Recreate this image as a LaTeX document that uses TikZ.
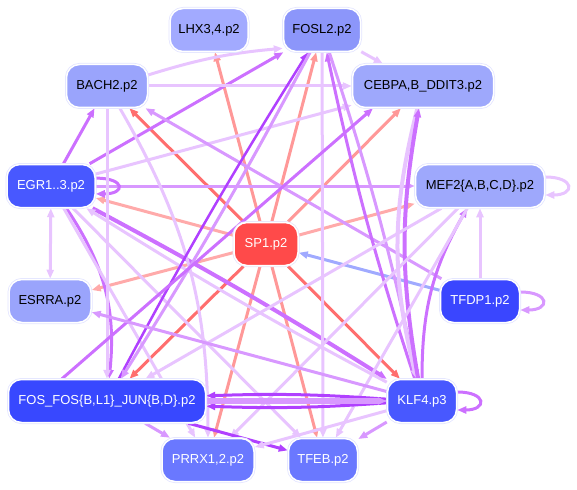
\documentclass[tikz,border=0pt]{standalone}
\usepackage{fontspec}
\setmainfont{Liberation Sans}
\usepackage{tikz}
\usetikzlibrary{arrows.meta}
\definecolor{lhxc}{HTML}{A2AAFF}
\definecolor{foslc}{HTML}{8C96FA}
\definecolor{bachc}{HTML}{9AA4FC}
\definecolor{cebc}{HTML}{9EA8FC}
\definecolor{egrc}{HTML}{4858FF}
\definecolor{spc}{HTML}{FF4A4A}
\definecolor{tfdc}{HTML}{3A46FF}
\definecolor{fosc}{HTML}{3848FF}
\definecolor{prrc}{HTML}{6A78FF}
\definecolor{rimc}{HTML}{E2E4FF}
\definecolor{redc}{HTML}{FF6E6E}
\definecolor{salc}{HTML}{FF9898}
\definecolor{lsalc}{HTML}{FFAAAA}
\definecolor{bluec}{HTML}{A0AAFF}
\definecolor{vioc}{HTML}{B040FF}
\definecolor{purc}{HTML}{CC70FF}
\definecolor{lpc}{HTML}{D898FF}
\definecolor{vlc}{HTML}{E8C4FF}
\pgfdeclarelayer{edges}
\pgfsetlayers{edges,main}
\tikzset{
  tf/.style={rounded corners=13pt,minimum height=43pt,inner sep=0pt,text=white,
    font=\fontsize{13}{15}\selectfont,preaction={draw=rimc,line width=3pt},draw=white,line width=1.5pt},
  lt/.style={text=black},
  ar/.style={->,line width=3pt}
}

\begin{document}
\begin{tikzpicture}[x=1pt,y=1pt,>={Triangle[length=9pt,width=7pt]}]
\useasboundingbox (0,0) rectangle (577,-489);
\node[tf,lt,fill=lhxc,minimum width=78pt] (lhx) at (209,-30) {LHX3,4.p2};
\node[tf,lt,fill=foslc,minimum width=77pt] (fosl) at (322,-30) {FOSL2.p2};
\node[tf,lt,fill=bachc,minimum width=81pt] (bach) at (107,-86) {BACH2.p2};
\node[tf,lt,fill=cebc,minimum width=141pt] (ceb) at (423,-86) {CEBPA,B\_DDIT3.p2};
\node[tf,fill=egrc,minimum width=88pt] (egr) at (51,-186) {EGR1..3.p2};
\node[tf,lt,fill=cebc,minimum width=129pt] (mef) at (480,-186) {MEF2\{A,B,C,D\}.p2};
\node[tf,fill=spc,minimum width=64pt,preaction={draw=spc!15}] (sp) at (266,-244) {SP1.p2};
\node[tf,lt,fill=bachc,minimum width=82pt] (esr) at (50,-301) {ESRRA.p2};
\node[tf,fill=tfdc,minimum width=79pt] (tfd) at (480,-301) {TFDP1.p2};
\node[tf,fill=fosc,minimum width=197pt] (fos) at (107,-401) {FOS\_FOS\{B,L1\}\_JUN\{B,D\}.p2};
\node[tf,fill=egrc,minimum width=69pt] (klf) at (422,-401) {KLF4.p3};
\node[tf,fill=prrc,minimum width=92pt] (prr) at (208,-460) {PRRX1,2.p2};
\node[tf,fill=prrc,minimum width=69pt] (tfe) at (323,-460) {TFEB.p2};

\begin{pgfonlayer}{edges}
% SP1 out
\foreach \t/\c in {lhx/salc,fosl/salc,ceb/salc,tfe/salc,prr/salc,bach/redc,fos/redc,klf/redc,egr/lsalc,mef/lsalc,esr/lsalc}
  \draw[ar,\c] (sp) -- (\t);
\draw[ar,bluec] (tfd) -- (sp);
% EGR
\draw[ar,purc] (egr) -- (bach);
\draw[ar,purc] (egr) -- (fosl);
\draw[ar,vlc] (egr) -- (ceb);
\draw[ar,lpc] (egr) -- (mef);
\draw[<->,line width=3pt,vlc] (egr) -- (esr);
\draw[ar,purc,bend left=20] (egr) to (fos);
\draw[ar,purc,line width=4pt,bend left=2] (egr) to (klf);
\draw[ar,vlc,bend left=2] (klf) to (egr);
\draw[ar,vlc] (egr) -- (prr);
\draw[ar,vlc] (egr) -- (tfe);
\draw[ar,purc] (egr.10) .. controls +(30,0) and +(30,0) .. (egr.-10);
% BACH2
\draw[ar,vlc,bend left=6] (bach.15) to (fosl.205);
\draw[ar,vlc] (bach) -- (ceb);
\draw[ar,vlc] (bach) -- (fos);
\draw[ar,vlc,bend left=15] (bach) to (prr);
\draw[ar,lpc] (tfd) -- (bach);
% FOSL2 and CEBPA
\draw[ar,vioc,line width=2.5pt,bend left=2] (fos) to (fosl);
\draw[ar,lpc,bend left=2] (fosl) to (fos);
\draw[ar,vlc] (fosl) -- (ceb);
\draw[ar,vlc] (fosl) -- (tfe);
\draw[ar,purc,bend left=3] (klf) to (fosl);
\draw[ar,lpc,bend left=3] (fosl) to (klf);
\draw[ar,purc] ([xshift=-45pt]fos.north) -- ([xshift=-50pt]ceb.south);
\draw[ar,vlc,line width=4pt,bend right=14] (ceb) to (klf);
\draw[ar,purc,line width=4pt,bend left=10] (klf) to (ceb);
% MEF2
\draw[ar,purc,bend left=15] (klf) to (mef);
\draw[ar,vlc] (tfd) -- (mef);
\draw[ar,vlc] (mef) -- (fos);
\draw[ar,vlc] (mef) -- (prr);
\draw[ar,vlc] (mef) -- (tfe);
\draw[ar,vlc] ([yshift=9pt]mef.east) .. controls +(30,0) and +(30,0) .. ([yshift=-9pt]mef.east);
\draw[ar,lpc] ([yshift=9pt]tfd.east) .. controls +(30,0) and +(30,0) .. ([yshift=-9pt]tfd.east);
% KLF4 and FOS
\draw[ar,vioc,bend left=3] (klf) to (fos);
\draw[ar,vioc,bend right=3] (klf) to (fos);
\draw[ar,lpc,line width=6pt] (fos) -- (klf);
\draw[ar,vioc] (fos) -- (tfe);
\draw[ar,lpc] (fos) -- (prr);
\draw[ar,lpc] (klf) -- (tfe);
\draw[ar,vlc] (klf) -- (prr);
\draw[ar,lpc] (klf) -- (esr);
\draw[ar,purc] ([yshift=9pt]klf.east) .. controls +(30,0) and +(30,0) .. ([yshift=-9pt]klf.east);
\end{pgfonlayer}
\end{tikzpicture}
\end{document}
